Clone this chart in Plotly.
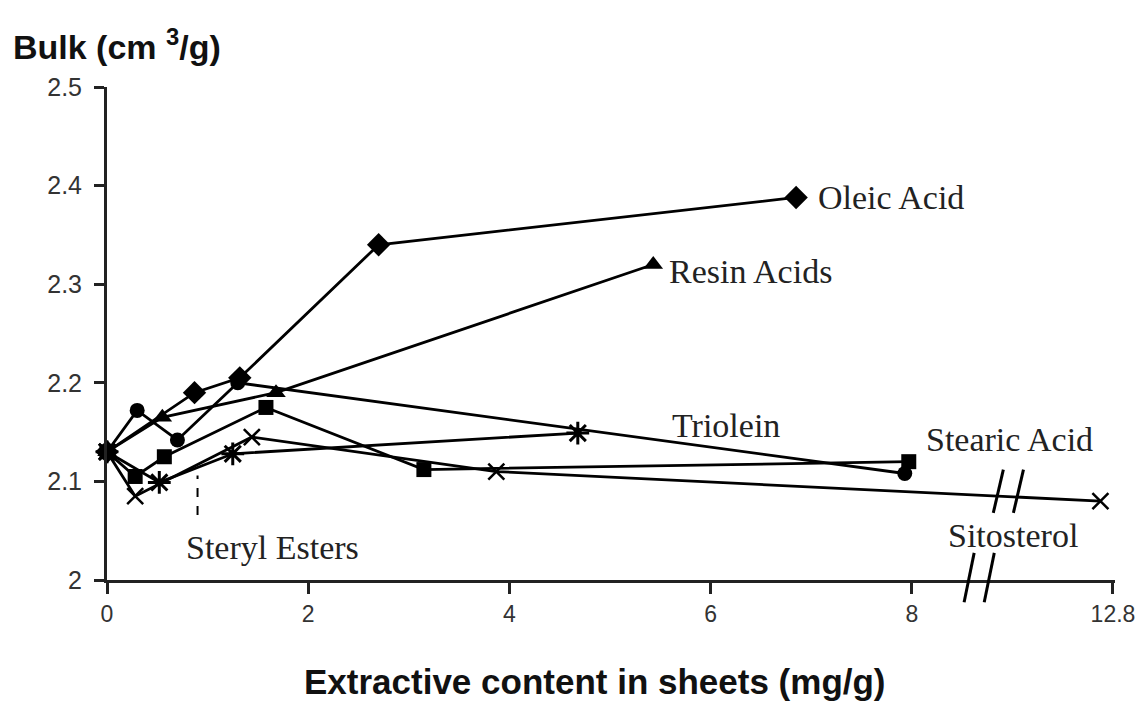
import plotly.graph_objects as go

# ---------------- data ----------------
oleic_x = [0, 0.87, 1.32, 2.70, 6.85]
oleic_y = [2.13, 2.19, 2.205, 2.34, 2.388]

resin_x = [0, 0.55, 1.68, 5.43]
resin_y = [2.13, 2.165, 2.19, 2.32]

triolein_x = [0, 0.30, 0.70, 1.30, 7.93]
triolein_y = [2.13, 2.172, 2.142, 2.20, 2.108]

stearic_x = [0, 0.28, 0.57, 1.58, 3.15, 7.97]
stearic_y = [2.13, 2.105, 2.125, 2.175, 2.112, 2.12]

steryl_x = [0, 0.52, 1.25, 4.68]
steryl_y = [2.13, 2.099, 2.128, 2.149]

sito_x = [0, 0.28, 1.44, 3.87, 12.5]
sito_y = [2.13, 2.085, 2.145, 2.11, 2.08]

x_tick_labels = ["0", "2", "4", "6", "8", "12.8"]
x_tick_real = [0, 2, 4, 6, 8, 12.8]
y_ticks = [2.0, 2.1, 2.2, 2.3, 2.4, 2.5]
y_tick_labels = ["2", "2.1", "2.2", "2.3", "2.4", "2.5"]

# broken axis: values above 8 are compressed (8 -> 12.8 drawn as 2 units)
BREAK = 8.0
SCALE = 2.0 / 4.8


def bx(v):
    return v if v <= BREAK else BREAK + (v - BREAK) * SCALE


def bxs(vals):
    return [bx(v) for v in vals]


fig = go.Figure()

series = [
    ("Oleic Acid", oleic_x, oleic_y, dict(symbol="diamond", size=18)),
    ("Resin Acids", resin_x, resin_y, dict(symbol="triangle-up", size=17)),
    ("Triolein", triolein_x, triolein_y, dict(symbol="circle", size=15)),
    ("Stearic Acid", stearic_x, stearic_y, dict(symbol="square", size=15)),
    ("Steryl Esters", steryl_x, steryl_y,
     dict(symbol="asterisk-open", size=19, line=dict(width=3, color="black"))),
    ("Sitosterol", sito_x, sito_y,
     dict(symbol="x-thin-open", size=16, line=dict(width=2.5, color="black"))),
]

for name, xs, ys, mk in series:
    m = dict(color="black")
    m.update(mk)
    fig.add_trace(go.Scatter(
        x=bxs(xs), y=ys, mode="lines+markers", name=name,
        line=dict(color="black", width=2.8),
        marker=m, cliponaxis=False, showlegend=False,
    ))

serif = "Liberation Serif, Times New Roman, serif"
sans = "Liberation Sans, Arial, sans-serif"

labels = [
    ("Oleic Acid", 7.05, 2.388),
    ("Resin Acids", 5.57, 2.313),
    ("Triolein", 5.6, 2.157),
    ("Stearic Acid", 8.12, 2.142),
    ("Sitosterol", 8.34, 2.045),
    ("Steryl Esters", 0.77, 2.033),
]
for txt, x, y in labels:
    fig.add_annotation(x=x, y=y, text=txt, showarrow=False, xanchor="left",
                       yanchor="middle",
                       font=dict(family=serif, size=34, color="#222"))

# dashed leader for Steryl Esters
fig.add_shape(type="line", x0=0.9, x1=0.9, y0=2.066, y1=2.106,
              line=dict(color="black", width=2, dash="dash"))

# axis break marks on the x axis
for xb in (8.57, 8.77):
    fig.add_shape(type="line", xref="x", yref="paper",
                  x0=xb - 0.05, x1=xb + 0.05, y0=-0.045, y1=0.055,
                  line=dict(color="black", width=3))
# break marks on the Sitosterol line
for xb in (8.86, 9.06):
    fig.add_shape(type="line", xref="x", yref="y",
                  x0=xb - 0.05, x1=xb + 0.05, y0=2.068, y1=2.112,
                  line=dict(color="black", width=3))

# y-axis title at the top
fig.add_annotation(xref="paper", yref="paper", x=-0.095, y=1.086,
                   xanchor="left", yanchor="middle", showarrow=False,
                   text="<b>Bulk (cm <sup>3</sup>/g)</b>",
                   font=dict(family=sans, size=34, color="#111"))

# x-axis title
fig.add_annotation(xref="paper", yref="paper", x=0.484, y=-0.205,
                   xanchor="center", yanchor="middle", showarrow=False,
                   text="<b>Extractive content in sheets (mg/g)</b>",
                   font=dict(family=sans, size=35, color="#111"))

fig.update_layout(
    width=1136, height=702,
    margin=dict(l=107, r=21, t=87, b=122, autoexpand=False),
    paper_bgcolor="white", plot_bgcolor="white",
    xaxis=dict(
        range=[0, 10.02], tickmode="array",
        tickvals=bxs(x_tick_real), ticktext=x_tick_labels,
        showgrid=False, zeroline=False, automargin=False,
        showline=True, linecolor="#222", linewidth=3,
        ticks="outside", ticklen=11, tickwidth=2.5, tickcolor="#222",
        tickfont=dict(family=sans, size=23, color="#333"),
        ticklabeloverflow="allow",
    ),
    yaxis=dict(
        range=[2.0, 2.5], tickmode="array",
        tickvals=y_ticks, ticktext=y_tick_labels,
        showgrid=False, zeroline=False, automargin=False,
        showline=True, linecolor="#222", linewidth=3,
        ticks="outside", ticklen=10, tickwidth=2.5, tickcolor="#222",
        tickfont=dict(family=sans, size=25, color="#333"),
        ticklabelstandoff=7,
    ),
)

fig.write_html("out.html")
